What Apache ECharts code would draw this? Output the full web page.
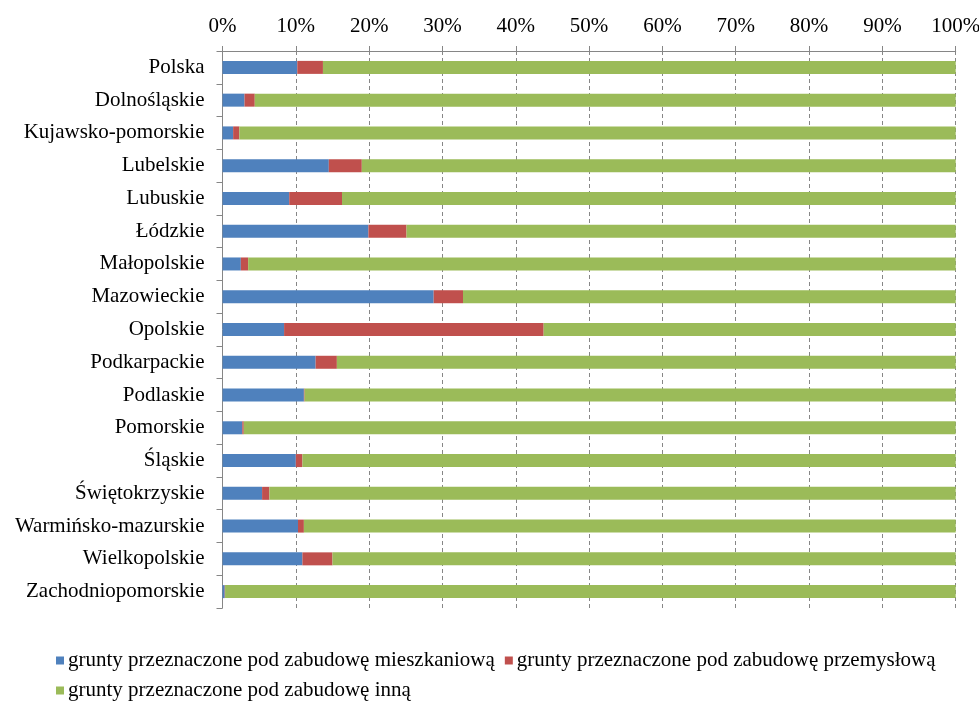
<!DOCTYPE html>
<html>
<head>
<meta charset="utf-8">
<script src="https://cdn.jsdelivr.net/npm/echarts@6/dist/echarts.min.js"></script>
<style>
html,body{margin:0;padding:0;background:#fff;}
#chart{width:979px;height:706px;}
</style>
</head>
<body>
<div id="chart"></div>
<script>
const categories = ["Polska","Dolnośląskie","Kujawsko-pomorskie","Lubelskie","Lubuskie","Łódzkie","Małopolskie","Mazowieckie","Opolskie","Podkarpackie","Podlaskie","Pomorskie","Śląskie","Świętokrzyskie","Warmińsko-mazurskie","Wielkopolskie","Zachodniopomorskie"];
const seriesNames = ["grunty przeznaczone pod zabudowę mieszkaniową","grunty przeznaczone pod zabudowę przemysłową","grunty przeznaczone pod zabudowę inną"];
const mieszkaniowa = [10.2,3.0,1.45,14.5,9.1,19.9,2.5,28.8,8.4,12.7,11.1,2.7,10.0,5.4,10.3,10.9,0.3];
const przemyslowa = [3.5,1.4,0.85,4.5,7.2,5.2,1.0,4.0,35.4,2.9,0.1,0.2,0.9,1.0,0.8,4.1,0.05];
const inna = [86.3,95.6,97.7,81.0,83.7,74.9,96.5,67.2,56.2,84.4,88.8,97.1,89.1,93.6,88.9,85.0,99.65];
const tickValues = [0,10,20,30,40,50,60,70,80,90,100];

const FONT = '"Liberation Serif", "Times New Roman", serif';
const colors = ['#4F81BD','#C0504D','#9BBB59'];
const chart = echarts.init(document.getElementById('chart'), null, {renderer:'canvas'});
const data = [mieszkaniowa, przemyslowa, inna];
chart.setOption({
  animation:false,
  color: colors,
  grid:{left:222.5, right:23.3, top:51, bottom:98, containLabel:false, outerBoundsMode:'none'},
  xAxis:{
    type:'value', position:'top', min:tickValues[0], max:tickValues[tickValues.length-1], interval:10,
    axisLine:{show:true, lineStyle:{color:'#868686', width:1}},
    axisTick:{show:true, length:5, lineStyle:{color:'#868686'}},
    axisLabel:{formatter: v => v + '%', color:'#000', fontFamily:FONT, fontSize:21, margin:14},
    splitLine:{show:true, lineStyle:{color:'#868686', type:[4,3], width:1}}
  },
  yAxis:{
    type:'category', data: categories, inverse:true,
    axisLine:{show:true, lineStyle:{color:'#868686'}},
    axisTick:{show:true, length:6, lineStyle:{color:'#868686'}},
    axisLabel:{color:'#000', fontFamily:FONT, fontSize:21, margin:18},
    splitLine:{show:false}
  },
  legend:[
    {data:[seriesNames[0], seriesNames[1]], left:51, top:645, itemWidth:8, itemHeight:8, itemGap:10,
     icon:'rect', textStyle:{fontFamily:FONT, fontSize:21, color:'#000', padding:[0,0,0,-1]}},
    {data:[seriesNames[2]], left:51, top:675, itemWidth:8, itemHeight:8, itemGap:10,
     icon:'rect', textStyle:{fontFamily:FONT, fontSize:21, color:'#000', padding:[0,0,0,-1]}}
  ],
  series: seriesNames.map((n,i)=>({
    name:n, type:'bar', stack:'total', barWidth:13, data:data[i],
    itemStyle:{color:colors[i]}
  }))
});
</script>
</body>
</html>
